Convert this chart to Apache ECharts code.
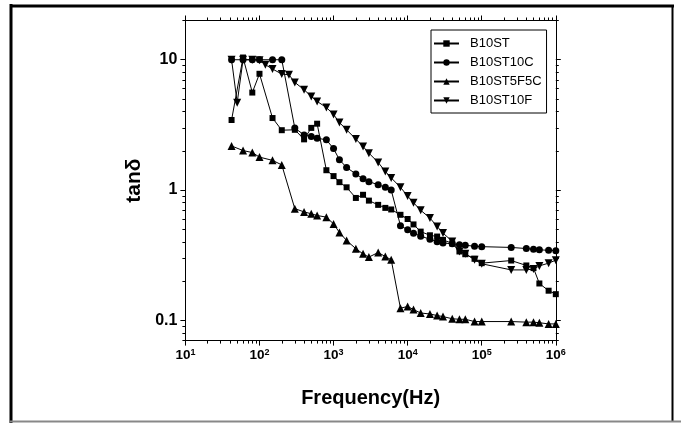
<!DOCTYPE html>
<html><head><meta charset="utf-8">
<script src="https://cdn.jsdelivr.net/npm/echarts@6/dist/echarts.min.js"></script>
<style>html,body{margin:0;padding:0;background:#fff}#c{width:681px;height:423px}</style>
</head><body><div id="c"></div>
<script>
// ---- data ----
const seriesNames = ['B10ST', 'B10ST10C', 'B10ST5F5C', 'B10ST10F'];
const freqA = [42,60,80,100,150,200,300,400,500,600,800,1000,1200,1500,2000,2500,3000,4000,5000,6000,8000,10000,12000,15000,20000,25000,30000,40000,50000,60000,80000,100000,250000,400000,500000,600000,800000,1000000];
const freqF = [42,50,60,80,100,120,150,200,250,300,400,500,600,800,1000,1200,1500,2000,2500,3000,4000,5000,6000,8000,10000,12000,15000,20000,25000,30000,40000,50000,60000,80000,100000,250000,400000,500000,600000,800000,1000000];
const tanST = [3.45,10.4,5.6,7.8,3.57,2.88,2.9,2.45,3.0,3.23,1.42,1.28,1.15,1.05,0.87,0.92,0.83,0.77,0.73,0.71,0.646,0.6,0.545,0.48,0.45,0.44,0.415,0.39,0.338,0.322,0.297,0.275,0.288,0.264,0.252,0.192,0.169,0.159];
const tanST10C = [10,10,10,10,10,10,2.99,2.65,2.58,2.5,2.43,2.08,1.71,1.49,1.33,1.22,1.16,1.1,1.05,1.0,0.533,0.496,0.467,0.443,0.42,0.402,0.393,0.387,0.38,0.378,0.37,0.368,0.363,0.356,0.352,0.348,0.345,0.343];
const tanST5F5C = [2.18,2.01,1.94,1.79,1.69,1.56,0.72,0.68,0.658,0.638,0.62,0.55,0.473,0.41,0.355,0.324,0.306,0.332,0.309,0.292,0.124,0.128,0.121,0.114,0.112,0.109,0.107,0.103,0.102,0.102,0.098,0.098,0.098,0.097,0.097,0.096,0.094,0.094];
const tanST10F = [10,4.68,10,10,9.9,9.16,8.49,7.77,7.67,6.7,5.89,5.23,4.79,4.3,3.8,3.3,2.9,2.46,2.16,1.92,1.63,1.39,1.24,1.05,0.9,0.8,0.7,0.61,0.526,0.468,0.404,0.338,0.325,0.292,0.272,0.244,0.244,0.248,0.262,0.275,0.29];
const xTicks = [10,100,1000,10000,100000,1000000];
const yTicks = [0.1,1,10];
const yTickLabels = ['0.1','1','10'];

// minor tick positions (2..9 per decade)
function minors(lo, hi) {
  const out = [];
  for (let d = lo; d < hi; d *= 10) for (let k = 2; k <= 9; k++) out.push(+(k * d).toPrecision(3));
  return out;
}
const xMinor = minors(10, 1000000);
const yMinor = minors(0.01, 100).filter(v => v >= 0.07 && v <= 20);

const FN = '"Liberation Sans",Arial,sans-serif';
const BLACK = '#000';

function xAx(pos, ticks, len, labels) {
  return {
    type: 'log', logBase: 10, min: 10, max: 1000000, position: pos,
    axisLine: { show: true, lineStyle: { color: BLACK, width: 1 } },
    axisTick: { show: true, inside: false, length: len, customValues: ticks, lineStyle: { color: BLACK, width: 1 } },
    splitLine: { show: false }, minorTick: { show: false },
    axisLabel: labels ? {
      show: true, customValues: xTicks, margin: 7,
      formatter: v => '{b|10}{s|' + Math.round(Math.log10(v)) + '}',
      rich: {
        b: { fontFamily: FN, fontWeight: 'bold', fontSize: 13.5, color: BLACK, lineHeight: 16 },
        s: { fontFamily: FN, fontWeight: 'bold', fontSize: 9, color: BLACK, verticalAlign: 'top', lineHeight: 16, padding: [0,0,6,0] }
      }
    } : { show: false },
    name: labels ? 'Frequency(Hz)' : '', nameLocation: 'middle', nameGap: 48,
    nameTextStyle: { fontFamily: FN, fontWeight: 'bold', fontSize: 20, color: BLACK }
  };
}
function yAx(pos, ticks, len, labels) {
  return {
    type: 'log', logBase: 10, min: 0.07, max: 20, position: pos,
    axisLine: { show: true, lineStyle: { color: BLACK, width: 1 } },
    axisTick: { show: true, inside: false, length: len, customValues: ticks, lineStyle: { color: BLACK, width: 1 } },
    splitLine: { show: false }, minorTick: { show: false },
    axisLabel: labels ? {
      show: true, customValues: yTicks, margin: 8,
      formatter: v => yTickLabels[yTicks.findIndex(t => Math.abs(t - v) / t < 1e-6)] || '',
      fontFamily: FN, fontWeight: 'bold', fontSize: 16, color: BLACK
    } : { show: false },
    name: labels ? 'tanδ' : '', nameLocation: 'middle', nameGap: 35, nameRotate: 90,
    nameTextStyle: { fontFamily: FN, fontWeight: 'bold', fontSize: 21, color: BLACK }
  };
}

const symbols = ['rect', 'circle', 'triangle', 'triangle'];
const sizes = [6, 7, 8, 8];
const rotates = [0, 0, 0, 180];
const freqs = [freqA, freqA, freqA, freqF];
const vals = [tanST, tanST10C, tanST5F5C, tanST10F];

const series = seriesNames.map((name, i) => ({
  name, type: 'line', xAxisIndex: 0, yAxisIndex: 0,
  data: freqs[i].map((f, j) => [f, vals[i][j]]),
  symbol: symbols[i], symbolSize: sizes[i], symbolRotate: rotates[i],
  showAllSymbol: true, animation: false,
  lineStyle: { color: BLACK, width: 1 },
  itemStyle: { color: BLACK, borderWidth: 0 }
}));

const chart = echarts.init(document.getElementById('c'), null, { renderer: 'canvas' });
chart.setOption({
  animation: false,
  backgroundColor: '#fff',
  grid: { left: 185.4, right: 125.2, top: 20.5, bottom: 82.4, containLabel: false, outerBoundsMode: 'none' },
  xAxis: [xAx('bottom', xTicks, 5, true), xAx('bottom', xMinor, 3, false), xAx('top', xTicks, 5, false), xAx('top', xMinor, 3, false)],
  yAxis: [yAx('left', yTicks, 5, true), yAx('left', yMinor, 3, false), yAx('right', yTicks, 5, false), yAx('right', yMinor, 3, false)],
  legend: {
    data: seriesNames.map((n, i) => ({ name: n, itemStyle: { color: BLACK }, iconRotate: rotates[i] })),
    orient: 'vertical', left: 431, top: 30, itemWidth: 25, itemHeight: 8, itemGap: 4,
    padding: [6, 5, 5, 2], borderColor: BLACK, borderWidth: 1, backgroundColor: '#fff',
    textStyle: { fontFamily: FN, fontSize: 13, color: BLACK, padding: [0, 0, 0, 6], lineHeight: 15 },
    selectedMode: false
  },
  graphic: [
    { type: 'line', shape: { x1: 11, y1: 4, x2: 11, y2: 423 }, style: { stroke: '#000', lineWidth: 3 } },
    { type: 'line', shape: { x1: 10, y1: 6, x2: 674, y2: 6 }, style: { stroke: '#000', lineWidth: 3 } },
    { type: 'line', shape: { x1: 672.5, y1: 5, x2: 672.5, y2: 421 }, style: { stroke: '#000', lineWidth: 2 } },
    { type: 'line', shape: { x1: 10, y1: 421.5, x2: 681, y2: 421.5 }, style: { stroke: '#888', lineWidth: 2 } }
  ],
  series
});
</script></body></html>
